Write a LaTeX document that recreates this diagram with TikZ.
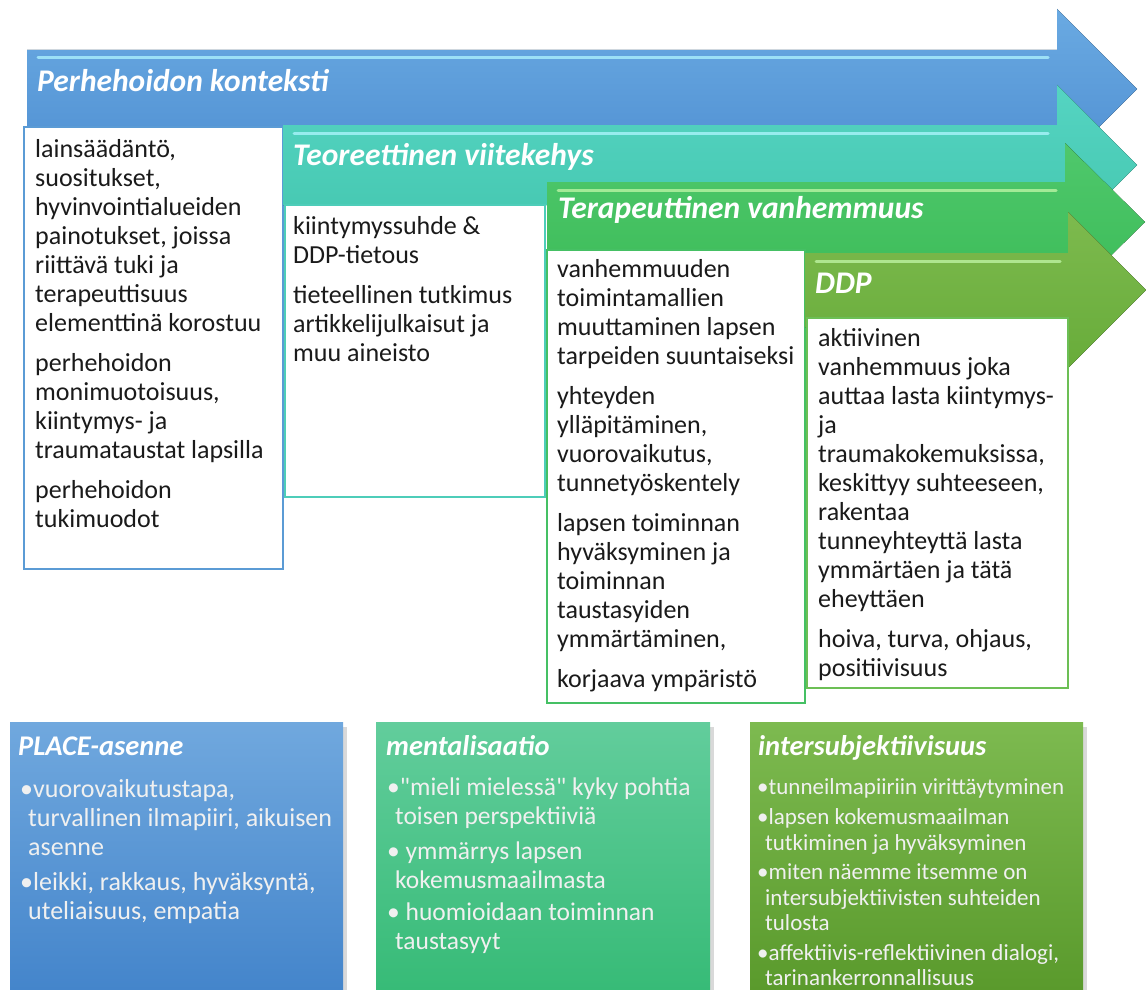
\documentclass[tikz,border=0pt]{standalone}
\usepackage{fontspec}
\setmainfont{Carlito}
\usetikzlibrary{positioning}

\definecolor{blueA}{HTML}{6AAAE2}
\definecolor{blueB}{HTML}{4F8FD2}
\definecolor{tealA}{HTML}{55D4C2}
\definecolor{tealB}{HTML}{43C6AE}
\definecolor{greenA}{HTML}{4FC86C}
\definecolor{greenB}{HTML}{3BBB57}
\definecolor{oliveA}{HTML}{7DBA4E}
\definecolor{oliveB}{HTML}{68AC3A}
\definecolor{lineblue}{HTML}{5B9BD5}
\definecolor{lineteal}{HTML}{4ECDB9}
\definecolor{linegreen}{HTML}{45C064}
\definecolor{lineolive}{HTML}{6CBF55}
\definecolor{placeA}{HTML}{70A8DE}
\definecolor{placeB}{HTML}{4485CB}
\definecolor{mentaA}{HTML}{62CD9C}
\definecolor{mentaB}{HTML}{37BB77}
\definecolor{interA}{HTML}{7DBA50}
\definecolor{interB}{HTML}{5A9A2C}
\definecolor{shineblue}{HTML}{B0F6FF}
\definecolor{shinegreen}{HTML}{C2F7A8}
\definecolor{inktext}{HTML}{1A1A1A}

\begin{document}
\begin{tikzpicture}[x=1pt,y=-1pt,inner sep=0pt]
  \tikzstyle{headtext}=[anchor=base west,text=white,font=\fontsize{31.5}{34}\selectfont\bfseries\itshape]
  \tikzstyle{listtext}=[anchor=north west,align=left,text=inktext,font=\fontsize{26}{29}\selectfont]
  \tikzstyle{whitebox}=[fill=white,line width=2pt]
  \tikzstyle{shine}=[line width=3pt,line cap=round,opacity=.75]
  \tikzstyle{cardshadow}=[fill=black,opacity=.15]
  \tikzstyle{cardtitle}=[anchor=base west,text=white,font=\fontsize{28.5}{31}\selectfont\bfseries\itshape]
  \tikzstyle{cardtext}=[anchor=north west,align=left,text=white!94!black,font=\fontsize{26}{29}\selectfont]

  \useasboundingbox (0,0) rectangle (1146,990);
  \fill[white] (0,0) rectangle (1146,990);

  % perhehoidon konteksti
  \fill[top color=blueA,bottom color=blueB] (27,50) -- (1057,50) -- (1057,9) -- (1137,89)
    -- (1057,169) -- (1057,128) -- (27,128) -- cycle;
  \draw[shine,shineblue] (38,58) -- (1048,58);
  \node[headtext] (context) at (37,92) {Perhehoidon konteksti};
  \draw[whitebox,draw=lineblue] (24,127) rectangle (283,569);
  \node[listtext] (contextlist) at (35,139) {lainsäädäntö,\\suositukset,\\hyvinvointialueiden\\painotukset, joissa\\riittävä tuki ja\\terapeuttisuus\\elementtinä korostuu\\[11pt]perhehoidon\\monimuotoisuus,\\kiintymys- ja\\traumataustat lapsilla\\[11pt]perhehoidon\\tukimuodot};

  % teoreettinen viitekehys
  \fill[top color=tealA,bottom color=tealB] (283,125) -- (1057,125) -- (1057,85) -- (1137,165)
    -- (1057,245) -- (1057,205) -- (283,205) -- cycle;
  \draw[shine,shineblue] (294,133) -- (1048,133);
  \node[headtext] (theory) at (293,165) {Teoreettinen viitekehys};
  \draw[whitebox,draw=lineteal] (285,205) rectangle (545,497);
  \node[listtext] (theorylist) at (293,216) {kiintymyssuhde \&\\DDP-tietous\\[11pt]tieteellinen tutkimus\\artikkelijulkaisut ja\\muu aineisto};

  % terapeuttinen vanhemmuus
  \fill[top color=greenA,bottom color=greenB] (547,182) -- (1065,182) -- (1065,143) -- (1145,222)
    -- (1065,301) -- (1065,262) -- (547,262) -- cycle;
  \draw[shine,shinegreen] (558,190) -- (1056,190);
  \node[headtext] (parenting) at (558,218) {Terapeuttinen vanhemmuus};
  \draw[whitebox,draw=linegreen] (547,250) rectangle (805,703);
  \node[listtext] (parentinglist) at (557,259) {vanhemmuuden\\toimintamallien\\muuttaminen lapsen\\tarpeiden suuntaiseksi\\[11pt]yhteyden\\ylläpitäminen,\\vuorovaikutus,\\tunnetyöskentely\\[11pt]lapsen toiminnan\\hyväksyminen ja\\toiminnan\\taustasyiden\\ymmärtäminen,\\[11pt]korjaava ympäristö};

  % DDP
  \fill[top color=oliveA,bottom color=oliveB] (805,253) -- (1068,253) -- (1068,212) -- (1146,290)
    -- (1068,368) -- (1068,327) -- (805,327) -- cycle;
  \draw[shine,shinegreen] (816,261) -- (1060,261);
  \node[headtext] (ddp) at (815,293) {DDP};
  \draw[whitebox,draw=lineolive] (807,318) rectangle (1068,688);
  \node[listtext] (ddplist) at (818,328) {aktiivinen\\vanhemmuus joka\\auttaa lasta kiintymys-\\ja\\traumakokemuksissa,\\keskittyy suhteeseen,\\rakentaa\\tunneyhteyttä lasta\\ymmärtäen ja tätä\\eheyttäen\\[11pt]hoiva, turva, ohjaus,\\positiivisuus};

  % lower cards
  \fill[cardshadow] (14,727) rectangle (347,990);
  \shade[top color=placeA,bottom color=placeB] (10,722) rectangle (343,990);
  \node[cardtitle] (place) at (18,755) {PLACE-asenne};
  \node[cardtext] (placelist) at (20,779) {\textbullet vuorovaikutustapa,\\\hspace*{8pt}turvallinen ilmapiiri, aikuisen\\\hspace*{8pt}asenne\\[6pt]\textbullet leikki, rakkaus, hyväksyntä,\\\hspace*{8pt}uteliaisuus, empatia};

  \fill[cardshadow] (380,727) rectangle (714,990);
  \shade[top color=mentaA,bottom color=mentaB] (376,722) rectangle (710,990);
  \node[cardtitle] (menta) at (386,755) {mentalisaatio};
  \node[cardtext,font=\fontsize{25.5}{29}\selectfont] (mentalist) at (387,778) {\textbullet{\addfontfeature{Ligatures=TeXOff}"mieli mielessä"} kyky pohtia\\\hspace*{8pt}toisen perspektiiviä\\[6pt]\textbullet\ ymmärrys lapsen\\\hspace*{8pt}kokemusmaailmasta\\[3pt]\textbullet\ huomioidaan toiminnan\\\hspace*{8pt}taustasyyt};

  \fill[cardshadow] (754,727) rectangle (1087,990);
  \shade[top color=interA,bottom color=interB] (750,722) rectangle (1083,990);
  \node[cardtitle] (inter) at (758,755) {intersubjektiivisuus};
  \node[cardtext,font=\fontsize{23}{25.5}\selectfont] (interlist) at (757,778) {\textbullet tunneilmapiiriin virittäytyminen\\[5pt]\textbullet lapsen kokemusmaailman\\\hspace*{8pt}tutkiminen ja hyväksyminen\\[4pt]\textbullet miten näemme itsemme on\\\hspace*{8pt}intersubjektiivisten suhteiden\\\hspace*{8pt}tulosta\\[4pt]\textbullet affektiivis-reflektiivinen dialogi,\\\hspace*{8pt}tarinankerronnallisuus};
\end{tikzpicture}
\end{document}
